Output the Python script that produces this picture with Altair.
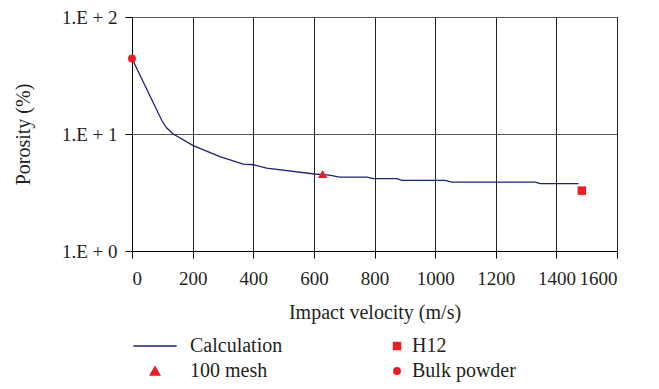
import altair as alt
import pandas as pd

# Calculation curve (impact velocity m/s, porosity %)
calc_v = [0, 48, 98, 114, 136, 202, 290, 367, 400, 444, 602, 650, 686, 775, 797, 874, 890, 1033, 1055, 1330, 1347, 1473]
calc_p = [44.2, 24.4, 13.1, 11.3, 10.0, 7.96, 6.41, 5.52, 5.46, 5.10, 4.55, 4.45, 4.28, 4.28, 4.15, 4.15, 4.01, 4.01, 3.88, 3.88, 3.76, 3.76]

# Experimental points
mesh_v = [629]
mesh_p = [4.55]
h12_v = [1484]
h12_p = [3.28]
bulk_v = [0]
bulk_p = [44.2]

x_ticks = [0, 200, 400, 600, 800, 1000, 1200, 1400, 1600]
y_ticks = [1, 10, 100]

NAVY = "#1f2277"
RED = "#ee1c25"
FONT = "Liberation Serif"
TXT = "#231f20"

calc_df = pd.DataFrame({"v": calc_v, "p": calc_p, "series": "Calculation"})
mesh_df = pd.DataFrame({"v": mesh_v, "p": mesh_p, "series": "100 mesh"})
h12_df = pd.DataFrame({"v": h12_v, "p": h12_p, "series2": "H12"})
bulk_df = pd.DataFrame({"v": bulk_v, "p": bulk_p, "series2": "Bulk powder"})

x_enc = alt.X("v:Q", scale=alt.Scale(domain=[0, 1600], nice=False),
              axis=alt.Axis(values=x_ticks, title="Impact velocity (m/s)", grid=True,
                            gridColor="#222222", format="d", labelPadding=11, titlePadding=14))
y_enc = alt.Y("p:Q", scale=alt.Scale(type="log", domain=[1, 100], nice=False),
              axis=alt.Axis(values=y_ticks, title="Porosity (%)", grid=True, gridColor="#555555",
                            labelPadding=8, titlePadding=28,
                            labelExpr="'1.E + ' + round(log(datum.value)/LN10)"))

dom1 = ["Calculation", "100 mesh"]
leg1 = alt.Legend(title=None, orient="none", legendX=13, legendY=319, labelOffset=25,
                  rowPadding=5, labelFontSize=20, labelFont=FONT, labelColor=TXT,
                  symbolOpacity=1)
color1 = alt.Color("series:N", scale=alt.Scale(domain=dom1, range=[NAVY, RED]), legend=leg1)

line = alt.Chart(calc_df).mark_line(strokeWidth=1.3).encode(x=x_enc, y=y_enc, color=color1)
tri = alt.Chart(mesh_df).mark_point(filled=True, opacity=1).encode(
    x=x_enc, y=y_enc, color=color1,
    shape=alt.Shape("series:N", scale=alt.Scale(domain=dom1, range=["M-5,0H5", "triangle-up"]), legend=leg1),
    size=alt.Size("series:N", scale=alt.Scale(domain=dom1, range=[75, 90]), legend=leg1),
)
group1 = alt.layer(line, tri)

dom2 = ["H12", "Bulk powder"]
leg2 = alt.Legend(title=None, orient="none", legendX=255, legendY=319, labelOffset=5,
                  rowPadding=5, labelFontSize=20, labelFont=FONT, labelColor=TXT,
                  symbolOpacity=1)
pts2 = pd.concat([h12_df, bulk_df])
group2 = alt.Chart(pts2).mark_point(filled=True, opacity=1).encode(
    x=x_enc, y=y_enc,
    color=alt.Color("series2:N", scale=alt.Scale(domain=dom2, range=[RED, RED]), legend=leg2),
    shape=alt.Shape("series2:N", scale=alt.Scale(domain=dom2, range=["square", "circle"]), legend=leg2),
    size=alt.Size("series2:N", scale=alt.Scale(domain=dom2, range=[72, 62]), legend=leg2),
)

chart = alt.layer(group1, group2).resolve_scale(
    color="independent", shape="independent", size="independent"
).properties(
    width=485, height=234,
    autosize=alt.AutoSizeParams(type="none"),
    padding={"left": 124, "top": 9, "right": 20, "bottom": 131},
).configure(
    font=FONT
).configure_view(
    stroke="#000000", strokeWidth=1
).configure_axis(
    labelFont=FONT, labelFontSize=19, labelColor=TXT,
    titleFont=FONT, titleFontSize=20, titleColor=TXT, titleFontWeight="normal",
    domainColor="#000000", domainWidth=1, tickColor="#000000", tickSize=7, tickWidth=1,
    gridWidth=1, gridOpacity=1,
).configure_legend(
    labelFont=FONT
)

chart.save("out.html", embed_options={"renderer": "svg", "actions": False})
